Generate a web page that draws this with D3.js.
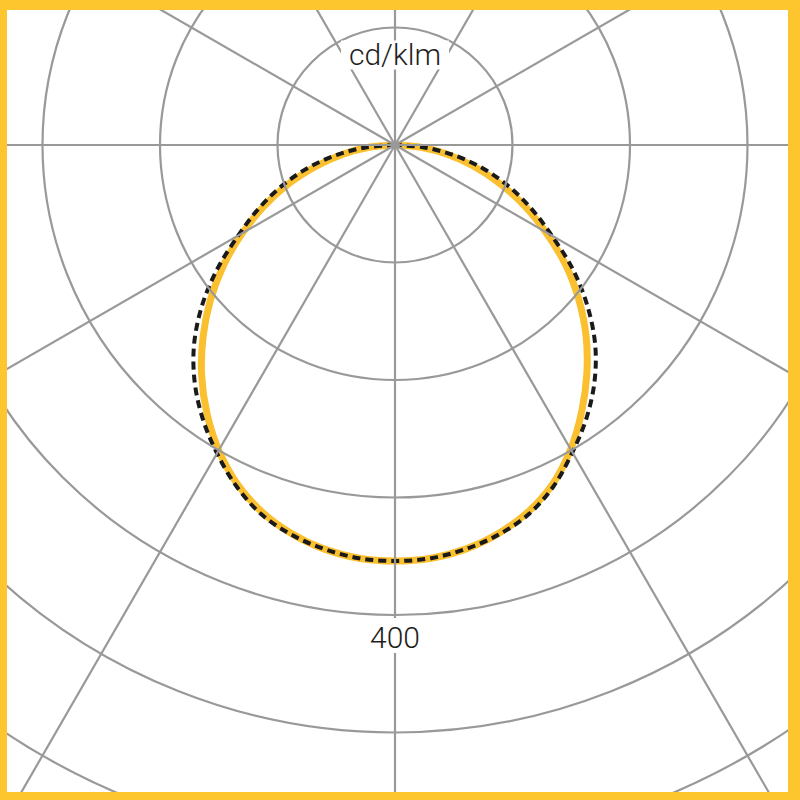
<!DOCTYPE html>
<html>
<head>
<meta charset="utf-8">
<script src="https://cdn.jsdelivr.net/npm/d3@7"></script>
<style>
  html, body { margin: 0; padding: 0; background: #fff; }
  svg { display: block; }
</style>
</head>
<body>
<div id="chart"></div>
<script>
// Polar luminous intensity diagram (cd/klm)

// angles from nadir, degrees (negative = left, positive = right)
const angles = [-90, -85, -80, -75, -70, -65, -60, -55, -50, -45, -40, -35, -30, -25, -20, -15, -10, -5,
  0, 5, 10, 15, 20, 25, 30, 35, 40, 45, 50, 55, 60, 65, 70, 75, 80, 85, 90];

// measured curve (solid yellow)
const measured = [0, 22, 45, 69, 96, 123, 150, 178, 205, 231, 256, 279, 300, 318, 332, 342, 349, 353,
  354, 353, 349, 342, 332, 318, 299, 277, 254, 230, 204, 177, 148, 121, 94, 69, 45, 22, 0];

// reference curve (dashed)
const reference = [0, 26, 52, 78, 103, 128, 154, 185, 215, 242, 265, 285, 303, 320, 334, 343, 349, 353,
  354, 353, 349, 343, 334, 320, 302, 284, 264, 241, 214, 185, 154, 128, 103, 78, 52, 26, 0];

const ringValues = [100, 200, 300, 400, 500, 600, 700];
const spokeAngles = [0, 30, 60, 90, 120, 150, 180, 210, 240, 270, 300, 330];
const unitLabel = 'cd/klm';
const ringLabel = 400;

const width = 800;
const height = 800;
const cx = 395;
const cy = 145;

const svg = d3.select('#chart')
  .append('svg')
  .attr('width', width)
  .attr('height', height);

const r = d3.scaleLinear().domain([0, 100]).range([0, 117.5]);

const g = svg.append('g').attr('transform', `translate(${cx},${cy})`);

// curves: angle 0 at nadir -> radial angle PI
const radial = d3.lineRadial()
  .angle(d => Math.PI - d[0] * Math.PI / 180)
  .radius(d => r(d[1]))
  .curve(d3.curveCatmullRom);

g.append('path')
  .datum(angles.map((a, i) => [a, measured[i]]))
  .attr('d', radial)
  .attr('fill', 'none')
  .attr('stroke', '#fbc02f')
  .attr('stroke-width', 7);

g.append('path')
  .datum(angles.map((a, i) => [a, reference[i]]))
  .attr('d', radial)
  .attr('fill', 'none')
  .attr('stroke', '#1a1a1a')
  .attr('stroke-width', 4)
  .attr('stroke-dasharray', '8,5');

// grid
g.selectAll('.ring')
  .data(ringValues)
  .join('circle')
  .attr('class', 'ring')
  .attr('r', d => r(d))
  .attr('fill', 'none')
  .attr('stroke', '#999')
  .attr('stroke-width', 2.2);

g.selectAll('.spoke')
  .data(spokeAngles)
  .join('line')
  .attr('class', 'spoke')
  .attr('x1', 0)
  .attr('y1', 0)
  .attr('x2', d => Math.sin(d * Math.PI / 180) * 1200)
  .attr('y2', d => Math.cos(d * Math.PI / 180) * 1200)
  .attr('stroke', '#999')
  .attr('stroke-width', 2.2);

// labels with white backing
const unitY = -r(100) + 37;
g.append('rect')
  .attr('x', -54).attr('y', unitY - 24)
  .attr('width', 108).attr('height', 29)
  .attr('fill', '#fff');
g.append('text')
  .attr('x', 0).attr('y', unitY)
  .attr('text-anchor', 'middle')
  .attr('font-family', 'Roboto, Liberation Sans, sans-serif')
  .attr('font-weight', 300)
  .attr('font-size', 30)
  .attr('fill', '#1e1e1e')
  .text(unitLabel);

const labelY = r(ringLabel) + 33;
g.append('rect')
  .attr('x', -32).attr('y', labelY - 30)
  .attr('width', 64).attr('height', 35)
  .attr('fill', '#fff');
g.append('text')
  .attr('x', 0).attr('y', labelY)
  .attr('text-anchor', 'middle')
  .attr('font-family', 'Roboto, Liberation Sans, sans-serif')
  .attr('font-weight', 300)
  .attr('font-size', 30)
  .attr('fill', '#1e1e1e')
  .text(ringLabel);

// yellow frame
svg.append('path')
  .attr('d', `M0,0H${width}V${height}H0Z M7,10V792H788V10Z`)
  .attr('fill', '#fdc52e')
  .attr('fill-rule', 'evenodd');
</script>
</body>
</html>
